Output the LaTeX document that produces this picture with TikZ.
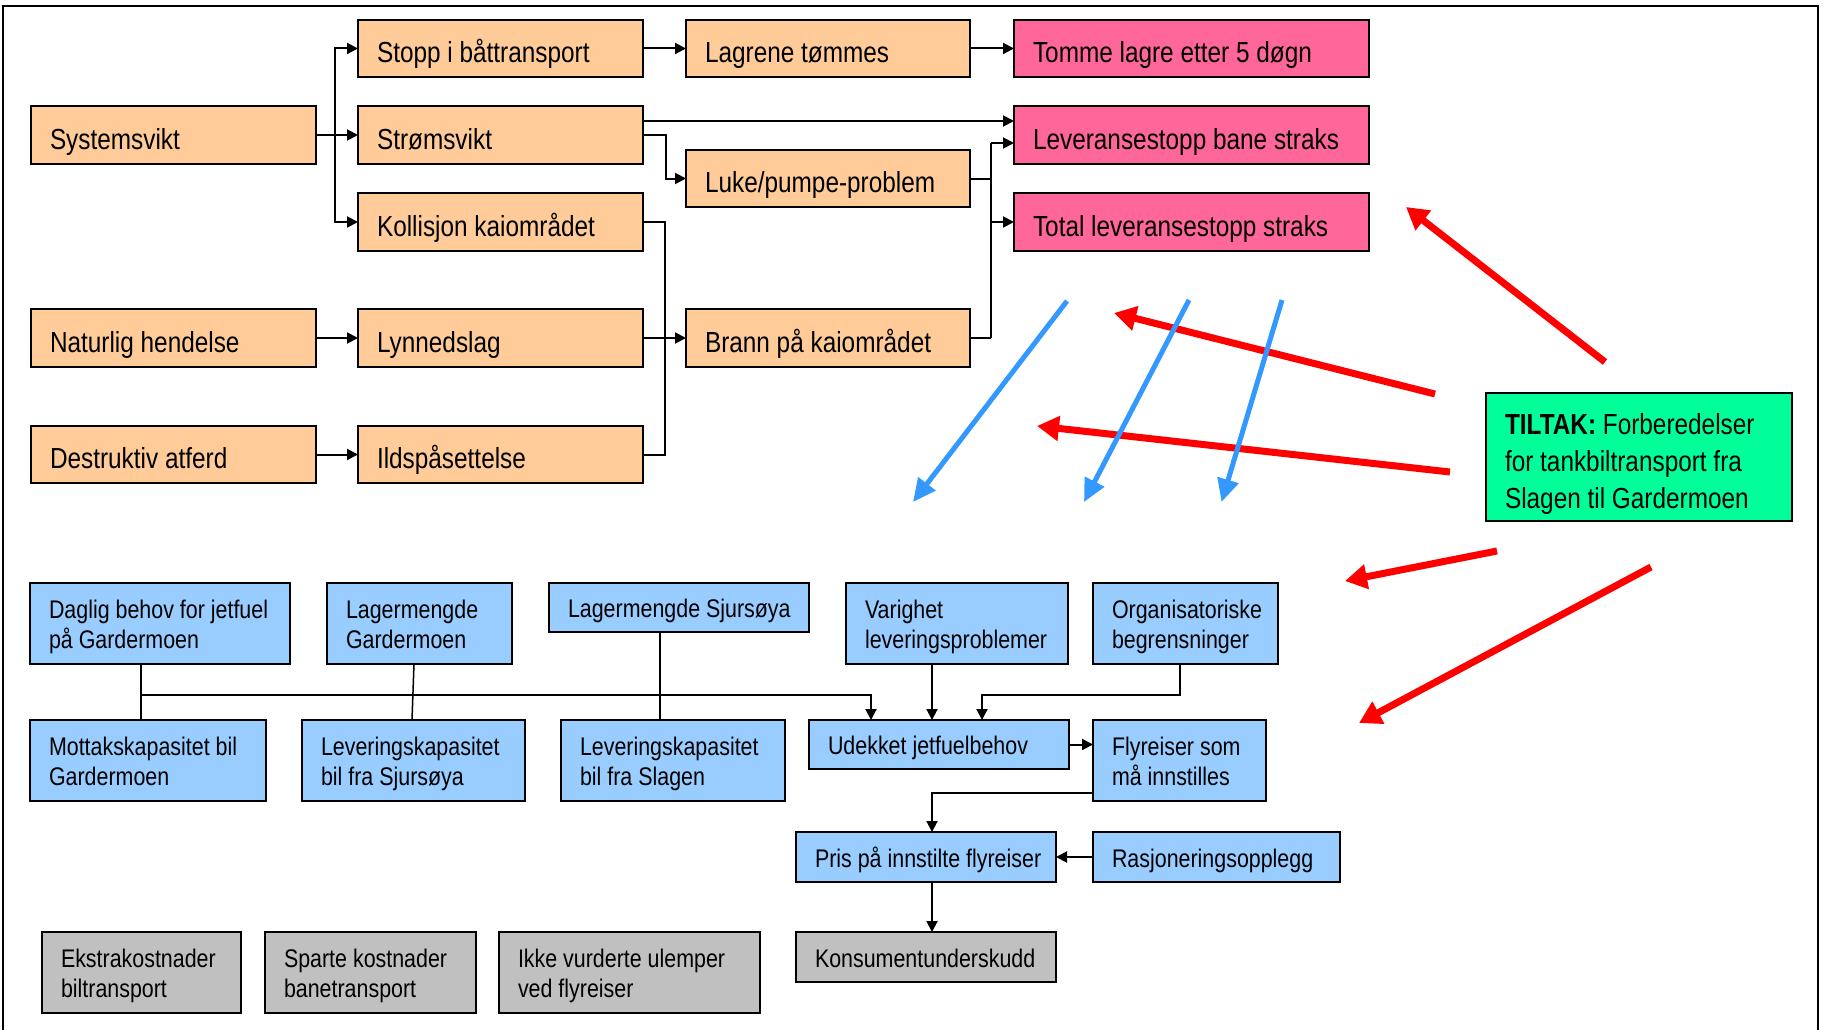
\documentclass[tikz,border=0pt]{standalone}
\usepackage{fontspec}
\setmainfont{Liberation Sans}[FakeStretch=0.84]
\usetikzlibrary{arrows.meta,calc}
\definecolor{cOrange}{RGB}{255,204,153}
\definecolor{cPink}{RGB}{255,102,153}
\definecolor{cBlue}{RGB}{153,204,255}
\definecolor{cGrey}{RGB}{192,192,192}
\definecolor{cGreen}{RGB}{0,255,153}
\definecolor{cRed}{RGB}{255,0,0}
\definecolor{cBlueArrow}{RGB}{51,153,255}
\def\mbraise{-4pt}
\newcommand\mybox[7]{%
  \pgfmathsetmacro\mbw{#5-#3}\pgfmathsetmacro\mbh{#6-#4}\pgfmathsetmacro\mbt{#5-#3-38}%
  \node[#2, minimum width=\mbw pt, minimum height=\mbh pt] (#1) at ({(#3+#5)/2},{(#4+#6)/2})
    {\makebox[\mbt pt][l]{\raisebox{\mbraise}[\height][\depth]{\begin{tabular}{@{}l@{}}#7\end{tabular}}}};}
\begin{document}
\begin{tikzpicture}[x=1pt,y=-1pt,
  bx/.style={draw=black, line width=2pt, inner xsep=19pt, inner ysep=0pt, outer sep=0pt},
  obox/.style={bx, fill=cOrange, font=\fontsize{29}{34}\selectfont, execute at begin node={\def\mbraise{-7.5pt}}},
  pbox/.style={bx, fill=cPink, font=\fontsize{29}{34}\selectfont, execute at begin node={\def\mbraise{-7.5pt}}},
  bbox/.style={bx, fill=cBlue, font=\fontsize{25.5}{30}\selectfont},
  gbox/.style={bx, fill=cGrey, font=\fontsize{25.5}{30}\selectfont},
  tbox/.style={bx, fill=cGreen, font=\fontsize{29}{37}\selectfont, execute at begin node={\def\mbraise{-7pt}}},
  cline/.style={draw=black, line width=2pt},
  arr/.style={cline, -{Triangle[length=11pt,width=11pt]}},
  thinl/.style={draw=black, line width=1.5pt},
  redarr/.style={draw=cRed, line width=7pt, -{Triangle[length=22pt,width=24pt]}},
  bluearr/.style={draw=cBlueArrow, line width=5pt, -{Triangle[length=23pt,width=21pt]}},
]
\useasboundingbox[fill=white] (0,0) rectangle (1825,1030);
\draw[line width=2.5pt] (3,1035) -- (3,6) -- (1818,6) -- (1818,1035);

% orange
\mybox{sys}{obox}{31}{106}{316}{164}{Systemsvikt}
\mybox{nat}{obox}{31}{309}{316}{367}{Naturlig hendelse}
\mybox{des}{obox}{31}{426}{316}{483}{Destruktiv atferd}
\mybox{stopp}{obox}{358}{20}{643}{77}{Stopp i båttransport}
\mybox{strom}{obox}{358}{106}{643}{164}{Strømsvikt}
\mybox{koll}{obox}{358}{193}{643}{251}{Kollisjon kaiområdet}
\mybox{lyn}{obox}{358}{309}{643}{367}{Lynnedslag}
\mybox{ild}{obox}{358}{426}{643}{483}{Ildspåsettelse}
\mybox{lag}{obox}{686}{20}{970}{77}{Lagrene tømmes}
\mybox{luke}{obox}{686}{150}{970}{207}{Luke/pumpe-problem}
\mybox{brann}{obox}{686}{309}{970}{367}{Brann på kaiområdet}
\mybox{tomme}{pbox}{1014}{20}{1369}{77}{Tomme lagre etter 5 døgn}
\mybox{lev}{pbox}{1014}{106}{1369}{164}{Leveransestopp bane straks}
\mybox{total}{pbox}{1014}{193}{1369}{251}{Total leveransestopp straks}
\mybox{tiltak}{tbox}{1486}{393}{1792}{521}{\textbf{TILTAK:} Forberedelser\\for tankbiltransport fra\\Slagen til Gardermoen}

% blue
\mybox{daglig}{bbox}{30}{583}{290}{664}{Daglig behov for jetfuel\\på Gardermoen}
\mybox{lgard}{bbox}{327}{583}{512}{664}{Lagermengde\\Gardermoen}
\mybox{lsjur}{bbox}{549}{583}{809}{632}{Lagermengde Sjursøya}
\mybox{varig}{bbox}{846}{583}{1068}{664}{Varighet\\leveringsproblemer}
\mybox{org}{bbox}{1093}{583}{1278}{664}{Organisatoriske\\begrensninger}
\mybox{mottak}{bbox}{30}{720}{266}{801}{Mottakskapasitet bil\\Gardermoen}
\mybox{levsj}{bbox}{302}{720}{525}{801}{Leveringskapasitet\\bil fra Sjursøya}
\mybox{levsl}{bbox}{561}{720}{785}{801}{Leveringskapasitet\\bil fra Slagen}
\mybox{udek}{bbox}{809}{720}{1069}{769}{Udekket jetfuelbehov}
\mybox{fly}{bbox}{1093}{720}{1266}{801}{Flyreiser som\\må innstilles}
\mybox{pris}{bbox}{796}{832}{1056}{882}{Pris på innstilte flyreiser}
\mybox{rasj}{bbox}{1093}{832}{1340}{882}{Rasjoneringsopplegg}
\mybox{kons}{gbox}{796}{932}{1056}{982}{Konsumentunderskudd}
\mybox{ekstra}{gbox}{42}{932}{241}{1013}{Ekstrakostnader\\biltransport}
\mybox{sparte}{gbox}{265}{932}{476}{1013}{Sparte kostnader\\banetransport}
\mybox{ikke}{gbox}{499}{932}{760}{1013}{Ikke vurderte ulemper\\ved flyreiser}

% orange connectors
\coordinate (j1) at (335,135);
\draw[cline] (sys.east) -- (j1);
\draw[arr] (j1) |- (stopp.west);
\draw[arr] (j1) -- (strom.west);
\draw[arr] (j1) |- (koll.west);
\draw[arr] (stopp.east) -- (lag.west);
\draw[arr] (lag.east) -- (tomme.west);
\draw[arr] (nat.east) -- (lyn.west);
\draw[arr] (des.east) -- (ild.west);
\path ([yshift=14pt]strom.east) coordinate (s1);
\draw[arr] (s1) -- (s1 -| lev.west);
\coordinate (k1) at (666,0);
\draw[arr] (strom.east) -- (strom.east -| k1) |- (luke.west);
\coordinate (k2) at (991,0);
\path ([yshift=-8pt]lev.west) coordinate (l1);
\draw[cline] (luke.east) -- (luke.east -| k2);
\draw[cline] (brann.east) -- (brann.east -| k2);
\draw[cline] (l1 -| k2) -- (brann.east -| k2);
\draw[arr] (l1 -| k2) -- (l1);
\draw[arr] (total.west -| k2) -- (total.west);
\coordinate (k3) at (665,0);
\draw[cline] (koll.east) -- (koll.east -| k3) -- (ild.east -| k3) -- (ild.east);
\draw[cline] (lyn.east) -- (lyn.east -| k3);
\draw[arr] (brann.west -| k3) -- (brann.west);

% blue connectors
\coordinate (b1) at (141,695);
\coordinate (b2) at (871,0);
\draw[thinl] (daglig.south -| b1) -- (mottak.north -| b1);
\draw[arr] (b1) -| (udek.north -| b2);
\draw[thinl] ($(lgard.south)+(-5.5,0)$) -- ($(levsj.north)+(-1.5,0)$);
\coordinate (b3) at (660,0);
\draw[thinl] (lsjur.south -| b3) -- (levsl.north -| b3);
\coordinate (b4) at (932,0);
\draw[arr] (varig.south -| b4) -- (udek.north -| b4);
\coordinate (b5) at (1180,695);
\coordinate (b6) at (982,695);
\draw[arr] (org.south -| b5) -- (b5) -- (b6) -- (udek.north -| b6);
\draw[arr] (udek.east) -- (udek.east -| fly.west);
\path ([yshift=-32.5pt]fly.west) coordinate (f1);
\draw[arr] (f1) -- (f1 -| b4) -- (pris.north -| b4);
\draw[arr] (rasj.west) -- (pris.east);
\draw[arr] (pris.south -| b4) -- (kons.north -| b4);

% red arrows
\coordinate (ra0) at (1605,362); \coordinate (ra1) at (1406,207);
\coordinate (rb0) at (1435,394); \coordinate (rb1) at (1114,313);
\coordinate (rc0) at (1450,472); \coordinate (rc1) at (1037,426);
\coordinate (rd0) at (1497,551); \coordinate (rd1) at (1345,581);
\coordinate (re0) at (1651,567); \coordinate (re1) at (1359,723);
\draw[redarr] (ra0) -- (ra1);
\draw[redarr] (rb0) -- (rb1);
\draw[redarr] (rc0) -- (rc1);
\draw[redarr] (rd0) -- (rd1);
\draw[redarr] (re0) -- (re1);

% blue arrows
\coordinate (ba0) at (1067,301); \coordinate (ba1) at (913,502);
\coordinate (bb0) at (1189,300); \coordinate (bb1) at (1084,502);
\coordinate (bc0) at (1282,300); \coordinate (bc1) at (1221.5,502);
\draw[bluearr] (ba0) -- (ba1);
\draw[bluearr] (bb0) -- (bb1);
\draw[bluearr] (bc0) -- (bc1);
\end{tikzpicture}
\end{document}
